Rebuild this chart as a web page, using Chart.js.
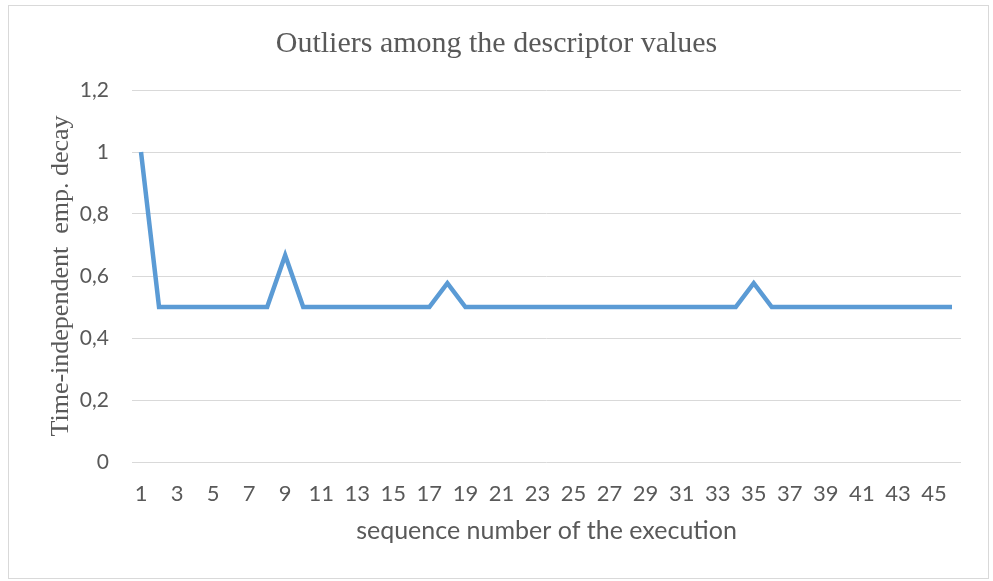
<!DOCTYPE html>
<html>
<head>
<meta charset="utf-8">
<script src="https://cdn.jsdelivr.net/npm/chart.js@4"></script>
<style>
  html, body { margin: 0; padding: 0; background: #fff; }
  #frame { position: absolute; left: 8px; top: 5px; width: 979px; height: 572px; border: 1px solid #d9d9d9; }
  #wrap { position: absolute; left: 0; top: 0; width: 993px; height: 581px; }
</style>
</head>
<body>
<div id="frame"></div>
<div id="wrap"><canvas id="chart"></canvas></div>
<script>
// sequence numbers 1..46
const sequenceLabels = ['1','2','3','4','5','6','7','8','9','10','11','12','13','14','15','16','17','18','19','20','21','22','23','24','25','26','27','28','29','30','31','32','33','34','35','36','37','38','39','40','41','42','43','44','45','46'];
// time-independent emp. decay per execution
const decayValues = [1, 0.5, 0.5, 0.5, 0.5, 0.5, 0.5, 0.5, 0.667, 0.5, 0.5, 0.5, 0.5, 0.5, 0.5, 0.5, 0.5, 0.577, 0.5, 0.5, 0.5, 0.5, 0.5, 0.5, 0.5, 0.5, 0.5, 0.5, 0.5, 0.5, 0.5, 0.5, 0.5, 0.5, 0.577, 0.5, 0.5, 0.5, 0.5, 0.5, 0.5, 0.5, 0.5, 0.5, 0.5, 0.5];
const yTicks = [0, 0.2, 0.4, 0.6, 0.8, 1, 1.2];

const textGrey = '#595959';

new Chart(document.getElementById('chart'), {
    type: 'line',
    data: {
        labels: sequenceLabels,
        datasets: [{
            data: decayValues,
            borderColor: '#5B9BD5',
            borderWidth: 4.5,
            pointRadius: 0,
            tension: 0,
            fill: false
        }]
    },
    options: {
        responsive: true,
        maintainAspectRatio: false,
        animation: false,
        layout: { padding: { left: 32, right: 32, top: 0, bottom: 0 } },
        plugins: {
            legend: { display: false },
            tooltip: { enabled: false },
            title: {
                display: true,
                text: 'Outliers among the descriptor values',
                color: textGrey,
                font: { family: 'Liberation Serif', size: 30, weight: 'normal' },
                padding: { top: 26, bottom: 28 }
            }
        },
        scales: {
            x: {
                offset: true,
                grid: { display: false },
                border: { display: false },
                ticks: {
                    autoSkip: false,
                    maxRotation: 0,
                    color: textGrey,
                    padding: 11,
                    font: { family: 'Lato', size: 22 },
                    callback: function(value, index) {
                        return index % 2 === 0 ? sequenceLabels[index] : '';
                    }
                },
                title: {
                    display: true,
                    text: 'sequence number of the execution',
                    color: textGrey,
                    font: { family: 'Lato', size: 25 },
                    padding: { top: 0, bottom: 35 }
                },
                afterFit: function(scale) { scale.height = 119; }
            },
            y: {
                min: 0,
                max: 1.2,
                afterBuildTicks: function(scale) {
                    scale.ticks = yTicks.map(v => ({ value: v }));
                },
                grid: { color: '#d9d9d9', lineWidth: 1, drawTicks: false },
                border: { display: false },
                ticks: {
                    color: textGrey,
                    padding: 23,
                    font: { family: 'Lato', size: 21 },
                    callback: function(value) {
                        return String(Math.round(value * 10) / 10).replace('.', ',');
                    }
                },
                title: {
                    display: true,
                    text: 'Time-independent  emp. decay',
                    color: textGrey,
                    font: { family: 'Liberation Serif', size: 26 },
                    padding: { top: 14, bottom: 0 }
                },
                afterFit: function(scale) { scale.width = 100; }
            }
        }
    }
});
</script>
</body>
</html>
